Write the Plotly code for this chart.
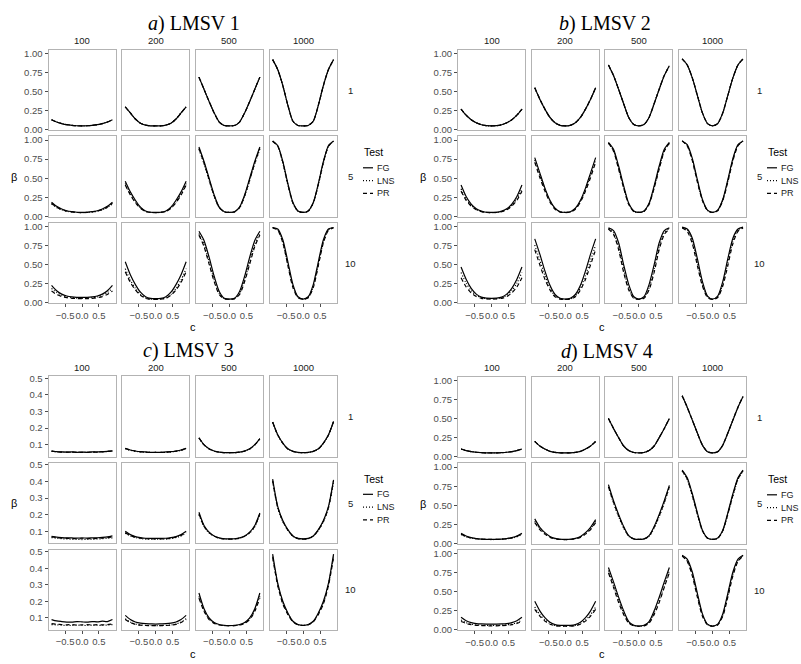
import plotly.graph_objects as go

# ---------------- data ----------------
C_GRID = [-0.9, -0.75, -0.6, -0.45, -0.3, -0.15, 0.0, 0.15, 0.3, 0.45, 0.6, 0.75, 0.9]
N_COLS = ["100", "200", "500", "1000"]
ROW_LABELS = ["1", "5", "10"]
TESTS = ["FG", "LNS", "PR"]
PANEL_TITLES = ["<i>a</i>) LMSV 1", "<i>b</i>) LMSV 2", "<i>c</i>) LMSV 3", "<i>d</i>) LMSV 4"]

Y_TICKS_FULL = [0.0, 0.25, 0.5, 0.75, 1.0]
Y_TICKTEXT_FULL = ["0.00", "0.25", "0.50", "0.75", "1.00"]
Y_TICKS_C = [0.1, 0.2, 0.3, 0.4, 0.5]
Y_TICKTEXT_C = ["0.1", "0.2", "0.3", "0.4", "0.5"]
X_TICKS = [-0.5, 0.0, 0.5]
X_TICKTEXT = ["\u22120.5", "0.0", "0.5"]

# rows: 1, 5, 10 ; columns: 100, 200, 500, 1000
LMSV1_FG = [
    [[0.13, 0.10, 0.08, 0.065, 0.056, 0.051, 0.05, 0.051, 0.056, 0.065, 0.08, 0.10, 0.13],
     [0.30, 0.22, 0.14, 0.085, 0.06, 0.05, 0.05, 0.05, 0.06, 0.085, 0.14, 0.22, 0.30],
     [0.69, 0.53, 0.37, 0.22, 0.10, 0.055, 0.05, 0.055, 0.10, 0.22, 0.37, 0.53, 0.69],
     [0.92, 0.79, 0.58, 0.32, 0.11, 0.055, 0.05, 0.055, 0.11, 0.32, 0.58, 0.79, 0.92]],
    [[0.185, 0.13, 0.095, 0.072, 0.06, 0.053, 0.05, 0.053, 0.06, 0.072, 0.095, 0.13, 0.185],
     [0.46, 0.32, 0.21, 0.12, 0.07, 0.053, 0.05, 0.053, 0.07, 0.12, 0.21, 0.32, 0.46],
     [0.91, 0.72, 0.50, 0.28, 0.12, 0.06, 0.05, 0.06, 0.12, 0.28, 0.50, 0.72, 0.91],
     [0.99, 0.93, 0.72, 0.43, 0.18, 0.07, 0.05, 0.07, 0.18, 0.43, 0.72, 0.93, 0.99]],
    [[0.23, 0.16, 0.115, 0.09, 0.078, 0.073, 0.072, 0.073, 0.078, 0.09, 0.115, 0.16, 0.23],
     [0.54, 0.37, 0.24, 0.14, 0.08, 0.058, 0.055, 0.058, 0.08, 0.14, 0.24, 0.37, 0.54],
     [0.94, 0.82, 0.60, 0.35, 0.15, 0.06, 0.05, 0.06, 0.15, 0.35, 0.60, 0.82, 0.94],
     [0.99, 0.97, 0.83, 0.54, 0.24, 0.08, 0.05, 0.08, 0.24, 0.54, 0.83, 0.97, 0.99]],
]
LMSV1_LNS = [
    [[0.13, 0.10, 0.08, 0.065, 0.056, 0.051, 0.05, 0.051, 0.056, 0.065, 0.08, 0.10, 0.13],
     [0.30, 0.22, 0.14, 0.085, 0.06, 0.05, 0.05, 0.05, 0.06, 0.085, 0.14, 0.22, 0.30],
     [0.69, 0.53, 0.37, 0.22, 0.10, 0.055, 0.05, 0.055, 0.10, 0.22, 0.37, 0.53, 0.69],
     [0.92, 0.79, 0.58, 0.32, 0.11, 0.055, 0.05, 0.055, 0.11, 0.32, 0.58, 0.79, 0.92]],
    [[0.16, 0.115, 0.085, 0.065, 0.055, 0.05, 0.048, 0.05, 0.055, 0.065, 0.085, 0.115, 0.16],
     [0.43, 0.29, 0.19, 0.11, 0.065, 0.051, 0.048, 0.051, 0.065, 0.11, 0.19, 0.29, 0.43],
     [0.88, 0.69, 0.47, 0.26, 0.11, 0.057, 0.05, 0.057, 0.11, 0.26, 0.47, 0.69, 0.88],
     [0.985, 0.92, 0.70, 0.41, 0.17, 0.065, 0.05, 0.065, 0.17, 0.41, 0.70, 0.92, 0.985]],
    [[0.19, 0.135, 0.10, 0.078, 0.067, 0.062, 0.06, 0.062, 0.067, 0.078, 0.10, 0.135, 0.19],
     [0.45, 0.30, 0.19, 0.11, 0.065, 0.05, 0.047, 0.05, 0.065, 0.11, 0.19, 0.30, 0.45],
     [0.91, 0.77, 0.54, 0.30, 0.12, 0.055, 0.048, 0.055, 0.12, 0.30, 0.54, 0.77, 0.91],
     [0.99, 0.96, 0.80, 0.50, 0.21, 0.07, 0.048, 0.07, 0.21, 0.50, 0.80, 0.96, 0.99]],
]
LMSV1_PR = [
    [[0.13, 0.10, 0.08, 0.065, 0.056, 0.051, 0.05, 0.051, 0.056, 0.065, 0.08, 0.10, 0.13],
     [0.30, 0.22, 0.14, 0.085, 0.06, 0.05, 0.05, 0.05, 0.06, 0.085, 0.14, 0.22, 0.30],
     [0.69, 0.53, 0.37, 0.22, 0.10, 0.055, 0.05, 0.055, 0.10, 0.22, 0.37, 0.53, 0.69],
     [0.92, 0.79, 0.58, 0.32, 0.11, 0.055, 0.05, 0.055, 0.11, 0.32, 0.58, 0.79, 0.92]],
    [[0.17, 0.12, 0.088, 0.068, 0.057, 0.05, 0.048, 0.05, 0.057, 0.068, 0.088, 0.12, 0.17],
     [0.41, 0.28, 0.18, 0.105, 0.063, 0.05, 0.048, 0.05, 0.063, 0.105, 0.18, 0.28, 0.41],
     [0.89, 0.70, 0.48, 0.27, 0.115, 0.058, 0.05, 0.058, 0.115, 0.27, 0.48, 0.70, 0.89],
     [0.985, 0.92, 0.71, 0.42, 0.175, 0.068, 0.05, 0.068, 0.175, 0.42, 0.71, 0.92, 0.985]],
    [[0.155, 0.11, 0.083, 0.068, 0.06, 0.056, 0.055, 0.056, 0.06, 0.068, 0.083, 0.11, 0.155],
     [0.41, 0.27, 0.17, 0.10, 0.06, 0.048, 0.046, 0.048, 0.06, 0.10, 0.17, 0.27, 0.41],
     [0.89, 0.74, 0.51, 0.28, 0.11, 0.053, 0.047, 0.053, 0.11, 0.28, 0.51, 0.74, 0.89],
     [0.985, 0.955, 0.79, 0.49, 0.20, 0.068, 0.048, 0.068, 0.20, 0.49, 0.79, 0.955, 0.985]],
]

LMSV2_FG = [
    [[0.27, 0.19, 0.13, 0.09, 0.065, 0.052, 0.05, 0.052, 0.065, 0.09, 0.13, 0.19, 0.27],
     [0.55, 0.40, 0.27, 0.16, 0.09, 0.057, 0.05, 0.057, 0.09, 0.16, 0.27, 0.40, 0.55],
     [0.85, 0.71, 0.53, 0.34, 0.16, 0.068, 0.05, 0.068, 0.16, 0.34, 0.53, 0.71, 0.84],
     [0.93, 0.85, 0.68, 0.45, 0.22, 0.08, 0.05, 0.08, 0.22, 0.45, 0.68, 0.85, 0.93]],
    [[0.41, 0.26, 0.16, 0.10, 0.068, 0.053, 0.05, 0.053, 0.068, 0.10, 0.16, 0.26, 0.41],
     [0.77, 0.57, 0.37, 0.21, 0.105, 0.06, 0.05, 0.06, 0.105, 0.21, 0.37, 0.57, 0.77],
     [0.97, 0.88, 0.66, 0.40, 0.17, 0.07, 0.05, 0.07, 0.17, 0.40, 0.66, 0.88, 0.97],
     [0.99, 0.94, 0.76, 0.48, 0.22, 0.08, 0.05, 0.08, 0.22, 0.48, 0.76, 0.94, 0.99]],
    [[0.47, 0.31, 0.19, 0.115, 0.075, 0.062, 0.06, 0.062, 0.075, 0.115, 0.19, 0.31, 0.47],
     [0.84, 0.64, 0.42, 0.23, 0.11, 0.06, 0.05, 0.06, 0.11, 0.23, 0.42, 0.64, 0.84],
     [0.985, 0.95, 0.79, 0.50, 0.24, 0.08, 0.05, 0.08, 0.24, 0.50, 0.79, 0.95, 0.985],
     [0.995, 0.97, 0.85, 0.58, 0.28, 0.09, 0.05, 0.09, 0.28, 0.58, 0.85, 0.97, 0.995]],
]
LMSV2_LNS = [
    [[0.27, 0.19, 0.13, 0.09, 0.065, 0.052, 0.05, 0.052, 0.065, 0.09, 0.13, 0.19, 0.27],
     [0.55, 0.40, 0.27, 0.16, 0.09, 0.057, 0.05, 0.057, 0.09, 0.16, 0.27, 0.40, 0.55],
     [0.85, 0.71, 0.53, 0.34, 0.16, 0.068, 0.05, 0.068, 0.16, 0.34, 0.53, 0.71, 0.84],
     [0.93, 0.85, 0.68, 0.45, 0.22, 0.08, 0.05, 0.08, 0.22, 0.45, 0.68, 0.85, 0.93]],
    [[0.36, 0.23, 0.145, 0.09, 0.062, 0.05, 0.048, 0.05, 0.062, 0.09, 0.145, 0.23, 0.36],
     [0.74, 0.54, 0.35, 0.20, 0.10, 0.057, 0.05, 0.057, 0.10, 0.20, 0.35, 0.54, 0.74],
     [0.96, 0.86, 0.63, 0.38, 0.16, 0.065, 0.05, 0.065, 0.16, 0.38, 0.63, 0.86, 0.96],
     [0.99, 0.93, 0.74, 0.46, 0.21, 0.075, 0.05, 0.075, 0.21, 0.46, 0.74, 0.93, 0.99]],
    [[0.40, 0.26, 0.16, 0.10, 0.068, 0.057, 0.055, 0.057, 0.068, 0.10, 0.16, 0.26, 0.40],
     [0.76, 0.56, 0.36, 0.20, 0.09, 0.053, 0.045, 0.053, 0.09, 0.20, 0.36, 0.56, 0.76],
     [0.975, 0.92, 0.73, 0.44, 0.19, 0.065, 0.045, 0.065, 0.19, 0.44, 0.73, 0.92, 0.975],
     [0.99, 0.96, 0.81, 0.53, 0.24, 0.08, 0.045, 0.08, 0.24, 0.53, 0.81, 0.96, 0.99]],
]
LMSV2_PR = [
    [[0.27, 0.19, 0.13, 0.09, 0.065, 0.052, 0.05, 0.052, 0.065, 0.09, 0.13, 0.19, 0.27],
     [0.55, 0.40, 0.27, 0.16, 0.09, 0.057, 0.05, 0.057, 0.09, 0.16, 0.27, 0.40, 0.55],
     [0.85, 0.71, 0.53, 0.34, 0.16, 0.068, 0.05, 0.068, 0.16, 0.34, 0.53, 0.71, 0.84],
     [0.93, 0.85, 0.68, 0.45, 0.22, 0.08, 0.05, 0.08, 0.22, 0.45, 0.68, 0.85, 0.93]],
    [[0.33, 0.21, 0.135, 0.085, 0.06, 0.05, 0.048, 0.05, 0.06, 0.085, 0.135, 0.21, 0.33],
     [0.71, 0.51, 0.33, 0.185, 0.093, 0.055, 0.048, 0.055, 0.093, 0.185, 0.33, 0.51, 0.71],
     [0.96, 0.855, 0.62, 0.37, 0.155, 0.063, 0.05, 0.063, 0.155, 0.37, 0.62, 0.855, 0.96],
     [0.99, 0.925, 0.73, 0.45, 0.205, 0.073, 0.05, 0.073, 0.205, 0.45, 0.73, 0.925, 0.99]],
    [[0.33, 0.21, 0.13, 0.083, 0.06, 0.052, 0.05, 0.052, 0.06, 0.083, 0.13, 0.21, 0.33],
     [0.70, 0.50, 0.31, 0.17, 0.08, 0.05, 0.045, 0.05, 0.08, 0.17, 0.31, 0.50, 0.70],
     [0.97, 0.90, 0.70, 0.40, 0.17, 0.06, 0.045, 0.06, 0.17, 0.40, 0.70, 0.90, 0.97],
     [0.985, 0.94, 0.78, 0.49, 0.22, 0.07, 0.045, 0.07, 0.22, 0.49, 0.78, 0.94, 0.985]],
]

LMSV3_FG = [
    [[0.062, 0.058, 0.056, 0.055, 0.056, 0.054, 0.055, 0.054, 0.056, 0.056, 0.058, 0.06, 0.063],
     [0.078, 0.068, 0.062, 0.058, 0.056, 0.054, 0.054, 0.054, 0.056, 0.058, 0.062, 0.068, 0.078],
     [0.142, 0.10, 0.075, 0.062, 0.055, 0.052, 0.052, 0.052, 0.055, 0.062, 0.075, 0.10, 0.137],
     [0.237, 0.16, 0.11, 0.075, 0.06, 0.054, 0.052, 0.054, 0.06, 0.075, 0.11, 0.16, 0.24]],
    [[0.07, 0.065, 0.062, 0.06, 0.06, 0.059, 0.06, 0.059, 0.06, 0.061, 0.063, 0.066, 0.072],
     [0.10, 0.08, 0.068, 0.062, 0.058, 0.057, 0.057, 0.057, 0.058, 0.062, 0.068, 0.08, 0.10],
     [0.215, 0.135, 0.095, 0.072, 0.06, 0.055, 0.054, 0.055, 0.06, 0.072, 0.095, 0.135, 0.21],
     [0.415, 0.25, 0.165, 0.11, 0.072, 0.057, 0.054, 0.057, 0.072, 0.11, 0.165, 0.25, 0.41]],
    [[0.09, 0.082, 0.078, 0.075, 0.074, 0.078, 0.076, 0.074, 0.078, 0.076, 0.08, 0.078, 0.09],
     [0.115, 0.09, 0.075, 0.068, 0.065, 0.064, 0.063, 0.064, 0.065, 0.068, 0.075, 0.09, 0.115],
     [0.25, 0.155, 0.10, 0.072, 0.06, 0.055, 0.054, 0.055, 0.06, 0.072, 0.10, 0.155, 0.25],
     [0.485, 0.31, 0.20, 0.13, 0.08, 0.06, 0.055, 0.06, 0.08, 0.13, 0.20, 0.31, 0.485]],
]
LMSV3_LNS = [
    [[0.06, 0.057, 0.055, 0.054, 0.055, 0.053, 0.054, 0.053, 0.055, 0.054, 0.057, 0.059, 0.062],
     [0.076, 0.066, 0.06, 0.056, 0.054, 0.053, 0.053, 0.053, 0.054, 0.056, 0.06, 0.066, 0.076],
     [0.14, 0.098, 0.074, 0.061, 0.054, 0.052, 0.051, 0.052, 0.054, 0.061, 0.074, 0.098, 0.135],
     [0.235, 0.158, 0.108, 0.074, 0.059, 0.053, 0.052, 0.053, 0.059, 0.074, 0.108, 0.158, 0.238]],
    [[0.062, 0.058, 0.055, 0.053, 0.052, 0.051, 0.05, 0.051, 0.052, 0.053, 0.055, 0.058, 0.06],
     [0.088, 0.072, 0.062, 0.056, 0.053, 0.052, 0.052, 0.052, 0.053, 0.056, 0.062, 0.072, 0.088],
     [0.20, 0.128, 0.09, 0.07, 0.058, 0.054, 0.053, 0.054, 0.058, 0.07, 0.09, 0.128, 0.20],
     [0.40, 0.24, 0.158, 0.105, 0.07, 0.056, 0.053, 0.056, 0.07, 0.105, 0.158, 0.24, 0.40]],
    [[0.06, 0.058, 0.056, 0.055, 0.054, 0.056, 0.055, 0.054, 0.056, 0.055, 0.055, 0.057, 0.06],
     [0.095, 0.075, 0.063, 0.057, 0.055, 0.054, 0.054, 0.054, 0.055, 0.057, 0.063, 0.075, 0.095],
     [0.23, 0.145, 0.095, 0.07, 0.058, 0.054, 0.053, 0.054, 0.058, 0.07, 0.095, 0.145, 0.23],
     [0.47, 0.30, 0.19, 0.125, 0.078, 0.059, 0.054, 0.059, 0.078, 0.125, 0.19, 0.30, 0.47]],
]
LMSV3_PR = [
    [[0.061, 0.058, 0.055, 0.055, 0.055, 0.054, 0.054, 0.054, 0.055, 0.055, 0.057, 0.06, 0.062],
     [0.077, 0.067, 0.061, 0.057, 0.055, 0.053, 0.053, 0.053, 0.055, 0.057, 0.061, 0.067, 0.077],
     [0.141, 0.099, 0.074, 0.061, 0.055, 0.052, 0.052, 0.052, 0.055, 0.061, 0.074, 0.099, 0.136],
     [0.236, 0.159, 0.109, 0.074, 0.06, 0.053, 0.052, 0.053, 0.06, 0.074, 0.109, 0.159, 0.239]],
    [[0.066, 0.062, 0.059, 0.057, 0.056, 0.055, 0.055, 0.055, 0.056, 0.057, 0.059, 0.062, 0.066],
     [0.092, 0.075, 0.065, 0.058, 0.055, 0.054, 0.054, 0.054, 0.055, 0.058, 0.065, 0.075, 0.092],
     [0.205, 0.13, 0.092, 0.07, 0.058, 0.054, 0.053, 0.054, 0.058, 0.07, 0.092, 0.13, 0.205],
     [0.405, 0.245, 0.16, 0.107, 0.071, 0.056, 0.053, 0.056, 0.071, 0.107, 0.16, 0.245, 0.405]],
    [[0.065, 0.062, 0.06, 0.058, 0.06, 0.057, 0.058, 0.06, 0.057, 0.059, 0.058, 0.06, 0.063],
     [0.09, 0.072, 0.061, 0.056, 0.054, 0.053, 0.053, 0.053, 0.054, 0.056, 0.061, 0.072, 0.09],
     [0.22, 0.14, 0.09, 0.067, 0.057, 0.053, 0.052, 0.053, 0.057, 0.067, 0.09, 0.14, 0.22],
     [0.465, 0.295, 0.185, 0.12, 0.076, 0.058, 0.054, 0.058, 0.076, 0.12, 0.185, 0.295, 0.465]],
]

LMSV4_FG = [
    [[0.10, 0.08, 0.066, 0.058, 0.053, 0.05, 0.05, 0.05, 0.053, 0.058, 0.066, 0.08, 0.10],
     [0.20, 0.14, 0.10, 0.07, 0.056, 0.051, 0.05, 0.051, 0.056, 0.07, 0.10, 0.14, 0.20],
     [0.50, 0.37, 0.25, 0.14, 0.08, 0.055, 0.05, 0.055, 0.08, 0.14, 0.25, 0.37, 0.50],
     [0.80, 0.65, 0.48, 0.31, 0.15, 0.065, 0.05, 0.065, 0.15, 0.31, 0.48, 0.65, 0.79]],
    [[0.13, 0.095, 0.075, 0.062, 0.055, 0.052, 0.05, 0.052, 0.055, 0.062, 0.075, 0.095, 0.13],
     [0.32, 0.21, 0.14, 0.09, 0.065, 0.053, 0.05, 0.053, 0.065, 0.09, 0.14, 0.21, 0.31],
     [0.77, 0.56, 0.38, 0.22, 0.10, 0.058, 0.05, 0.058, 0.10, 0.22, 0.38, 0.56, 0.76],
     [0.96, 0.86, 0.65, 0.40, 0.17, 0.068, 0.05, 0.068, 0.17, 0.40, 0.65, 0.86, 0.96]],
    [[0.165, 0.12, 0.095, 0.083, 0.078, 0.076, 0.076, 0.076, 0.078, 0.083, 0.095, 0.12, 0.165],
     [0.375, 0.25, 0.16, 0.10, 0.07, 0.06, 0.058, 0.06, 0.07, 0.10, 0.16, 0.25, 0.375],
     [0.82, 0.63, 0.43, 0.25, 0.11, 0.06, 0.05, 0.06, 0.11, 0.25, 0.43, 0.63, 0.82],
     [0.98, 0.93, 0.76, 0.48, 0.21, 0.075, 0.05, 0.075, 0.21, 0.48, 0.76, 0.93, 0.98]],
]
LMSV4_LNS = [
    [[0.10, 0.08, 0.066, 0.058, 0.053, 0.05, 0.05, 0.05, 0.053, 0.058, 0.066, 0.08, 0.10],
     [0.20, 0.14, 0.10, 0.07, 0.056, 0.051, 0.05, 0.051, 0.056, 0.07, 0.10, 0.14, 0.20],
     [0.50, 0.37, 0.25, 0.14, 0.08, 0.055, 0.05, 0.055, 0.08, 0.14, 0.25, 0.37, 0.50],
     [0.80, 0.65, 0.48, 0.31, 0.15, 0.065, 0.05, 0.065, 0.15, 0.31, 0.48, 0.65, 0.79]],
    [[0.115, 0.085, 0.068, 0.058, 0.053, 0.05, 0.049, 0.05, 0.053, 0.058, 0.068, 0.085, 0.115],
     [0.29, 0.19, 0.125, 0.082, 0.06, 0.051, 0.049, 0.051, 0.06, 0.082, 0.125, 0.19, 0.29],
     [0.74, 0.53, 0.35, 0.20, 0.09, 0.055, 0.05, 0.055, 0.09, 0.20, 0.35, 0.53, 0.74],
     [0.95, 0.84, 0.62, 0.38, 0.16, 0.064, 0.05, 0.064, 0.16, 0.38, 0.62, 0.84, 0.95]],
    [[0.13, 0.096, 0.076, 0.066, 0.061, 0.059, 0.058, 0.059, 0.061, 0.066, 0.076, 0.096, 0.13],
     [0.30, 0.20, 0.13, 0.085, 0.06, 0.052, 0.05, 0.052, 0.06, 0.085, 0.13, 0.20, 0.30],
     [0.78, 0.58, 0.39, 0.22, 0.095, 0.055, 0.048, 0.055, 0.095, 0.22, 0.39, 0.58, 0.78],
     [0.975, 0.91, 0.73, 0.45, 0.19, 0.07, 0.048, 0.07, 0.19, 0.45, 0.73, 0.91, 0.975]],
]
LMSV4_PR = [
    [[0.10, 0.08, 0.066, 0.058, 0.053, 0.05, 0.05, 0.05, 0.053, 0.058, 0.066, 0.08, 0.10],
     [0.20, 0.14, 0.10, 0.07, 0.056, 0.051, 0.05, 0.051, 0.056, 0.07, 0.10, 0.14, 0.20],
     [0.50, 0.37, 0.25, 0.14, 0.08, 0.055, 0.05, 0.055, 0.08, 0.14, 0.25, 0.37, 0.50],
     [0.80, 0.65, 0.48, 0.31, 0.15, 0.065, 0.05, 0.065, 0.15, 0.31, 0.48, 0.65, 0.79]],
    [[0.12, 0.09, 0.07, 0.06, 0.054, 0.051, 0.05, 0.051, 0.054, 0.06, 0.07, 0.09, 0.12],
     [0.27, 0.18, 0.12, 0.078, 0.058, 0.05, 0.048, 0.05, 0.058, 0.078, 0.12, 0.18, 0.27],
     [0.74, 0.54, 0.36, 0.21, 0.095, 0.056, 0.05, 0.056, 0.095, 0.21, 0.36, 0.54, 0.74],
     [0.95, 0.845, 0.63, 0.385, 0.165, 0.066, 0.05, 0.066, 0.165, 0.385, 0.63, 0.845, 0.95]],
    [[0.11, 0.085, 0.068, 0.06, 0.056, 0.054, 0.053, 0.054, 0.056, 0.06, 0.068, 0.085, 0.11],
     [0.27, 0.18, 0.115, 0.075, 0.055, 0.05, 0.048, 0.05, 0.055, 0.075, 0.115, 0.18, 0.27],
     [0.75, 0.56, 0.36, 0.20, 0.088, 0.053, 0.048, 0.053, 0.088, 0.20, 0.36, 0.56, 0.75],
     [0.97, 0.90, 0.71, 0.43, 0.18, 0.065, 0.048, 0.065, 0.18, 0.43, 0.71, 0.90, 0.97]],
]

PANEL_DATA = [
    {"FG": LMSV1_FG, "LNS": LMSV1_LNS, "PR": LMSV1_PR},
    {"FG": LMSV2_FG, "LNS": LMSV2_LNS, "PR": LMSV2_PR},
    {"FG": LMSV3_FG, "LNS": LMSV3_LNS, "PR": LMSV3_PR},
    {"FG": LMSV4_FG, "LNS": LMSV4_LNS, "PR": LMSV4_PR},
]

# ---------------- layout geometry (page pixels) ----------------
W, H = 801, 664
BLOCK_LEFT = [48.5, 458.0, 48.5, 458.0]
BLOCK_TOP = [46.5, 46.5, 377.5, 378.0]
COL_PITCH, PANEL_W = 73.7, 67.0
ROW_PITCH, PANEL_H = 87.8, 81.5
TITLE_POS = [(194, 20), (605, 20), (188, 351), (607, 352)]
LEGEND_X = [363, 767, 363, 767]
YRANGE_FULL = [-0.008, 1.048]
YRANGE_C = [0.027, 0.512]
XRANGE = [-0.99, 0.99]

DASH = {"FG": "solid", "LNS": "1px,2px", "PR": "4px,3px"}
BORDER = "#b3b3b3"
TICKCOL = "#4d4d4d"
FONT = "Liberation Sans, Arial, sans-serif"
LW = 1.2
TICK_SIZE = 9.5
STRIP_SIZE = 9.5


def px(x):
    return x / W


def py(y):
    return 1 - y / H


fig = go.Figure()
layout = {}
annotations = []
shapes = []

n = 0
for b in range(4):
    is_c = (b == 2)
    for r in range(3):
        for k in range(4):
            n += 1
            x0 = BLOCK_LEFT[b] + k * COL_PITCH
            y0 = BLOCK_TOP[b] + r * ROW_PITCH
            xa = "xaxis" if n == 1 else f"xaxis{n}"
            ya = "yaxis" if n == 1 else f"yaxis{n}"
            bottom = (r == 2)
            left = (k == 0)
            layout[xa] = dict(
                domain=[px(x0), px(x0 + PANEL_W)], range=XRANGE, anchor=f"y{n}",
                showline=True, mirror=True, linecolor=BORDER, linewidth=1,
                showgrid=False, zeroline=False,
                tickvals=X_TICKS, ticktext=X_TICKTEXT, tickangle=0,
                ticks="outside" if bottom else "", ticklen=3, tickcolor=TICKCOL, tickwidth=1,
                showticklabels=bottom, tickfont=dict(family=FONT, size=TICK_SIZE, color=TICKCOL),
                fixedrange=True,
            )
            layout[ya] = dict(
                domain=[py(y0 + PANEL_H), py(y0)], range=YRANGE_C if is_c else YRANGE_FULL,
                anchor=f"x{n}",
                showline=True, mirror=True, linecolor=BORDER, linewidth=1,
                showgrid=False, zeroline=False,
                tickvals=Y_TICKS_C if is_c else Y_TICKS_FULL,
                ticktext=Y_TICKTEXT_C if is_c else Y_TICKTEXT_FULL,
                ticks="outside" if left else "", ticklen=3, tickcolor=TICKCOL, tickwidth=1,
                showticklabels=left, tickfont=dict(family=FONT, size=TICK_SIZE, color=TICKCOL),
                fixedrange=True,
            )
            for t in TESTS:
                fig.add_trace(go.Scatter(
                    x=C_GRID, y=PANEL_DATA[b][t][r][k], mode="lines",
                    line=dict(color="black", width=LW, dash=DASH[t], shape="spline", smoothing=0.7),
                    xaxis=f"x{n}", yaxis=f"y{n}", showlegend=False, hoverinfo="skip", name=t,
                ))
            if r == 0:
                annotations.append(dict(
                    x=px(x0 + PANEL_W / 2), y=py(y0 - 9.5), xref="paper", yref="paper",
                    text=N_COLS[k], showarrow=False, xanchor="center", yanchor="middle",
                    font=dict(family=FONT, size=STRIP_SIZE, color="#1a1a1a")))
            if k == 3:
                annotations.append(dict(
                    x=px(x0 + PANEL_W + 13.5), y=py(y0 + PANEL_H / 2), xref="paper", yref="paper",
                    text=ROW_LABELS[r], showarrow=False, xanchor="center", yanchor="middle",
                    font=dict(family=FONT, size=STRIP_SIZE, color="#1a1a1a")))

    gx0 = BLOCK_LEFT[b]
    gx1 = BLOCK_LEFT[b] + 3 * COL_PITCH + PANEL_W
    gy0 = BLOCK_TOP[b]
    gy1 = BLOCK_TOP[b] + 2 * ROW_PITCH + PANEL_H
    tx, ty = TITLE_POS[b]
    annotations.append(dict(
        x=px(tx), y=py(ty), xref="paper", yref="paper", text=PANEL_TITLES[b],
        showarrow=False, xanchor="center", yanchor="middle",
        font=dict(family="Liberation Serif, Times New Roman, serif", size=20, color="black")))
    annotations.append(dict(
        x=px(gx0 - 35), y=py((gy0 + gy1) / 2), xref="paper", yref="paper", text="\u03b2",
        showarrow=False, xanchor="center", yanchor="middle",
        font=dict(family=FONT, size=11, color="black")))
    annotations.append(dict(
        x=px((gx0 + gx1) / 2), y=py(gy1 + 24), xref="paper", yref="paper", text="c",
        showarrow=False, xanchor="center", yanchor="middle",
        font=dict(family=FONT, size=11, color="black")))
    lx = LEGEND_X[b]
    ly = (gy0 + gy1) / 2 - 25
    annotations.append(dict(
        x=px(lx - 1), y=py(ly), xref="paper", yref="paper", text="Test",
        showarrow=False, xanchor="left", yanchor="middle",
        font=dict(family=FONT, size=10.5, color="black")))
    for i, t in enumerate(TESTS):
        yy = ly + 16 + i * 13
        shapes.append(dict(type="line", xref="paper", yref="paper",
                           x0=px(lx), x1=px(lx + 10), y0=py(yy), y1=py(yy),
                           line=dict(color="black", width=LW, dash=DASH[t])))
        annotations.append(dict(
            x=px(lx + 12), y=py(yy), xref="paper", yref="paper", text=t,
            showarrow=False, xanchor="left", yanchor="middle",
            font=dict(family=FONT, size=9, color="#1a1a1a")))

fig.update_layout(
    width=W, height=H, margin=dict(l=0, r=0, t=0, b=0),
    paper_bgcolor="white", plot_bgcolor="white",
    showlegend=False, annotations=annotations, shapes=shapes,
    font=dict(family=FONT),
    **layout,
)

# remove the browser's default page margin so the 801x664 figure fills the window exactly
fig.write_html(
    "out.html",
    config={"displayModeBar": False, "staticPlot": True},
    post_script="document.body.style.margin='0';document.body.style.overflow='hidden';",
)
